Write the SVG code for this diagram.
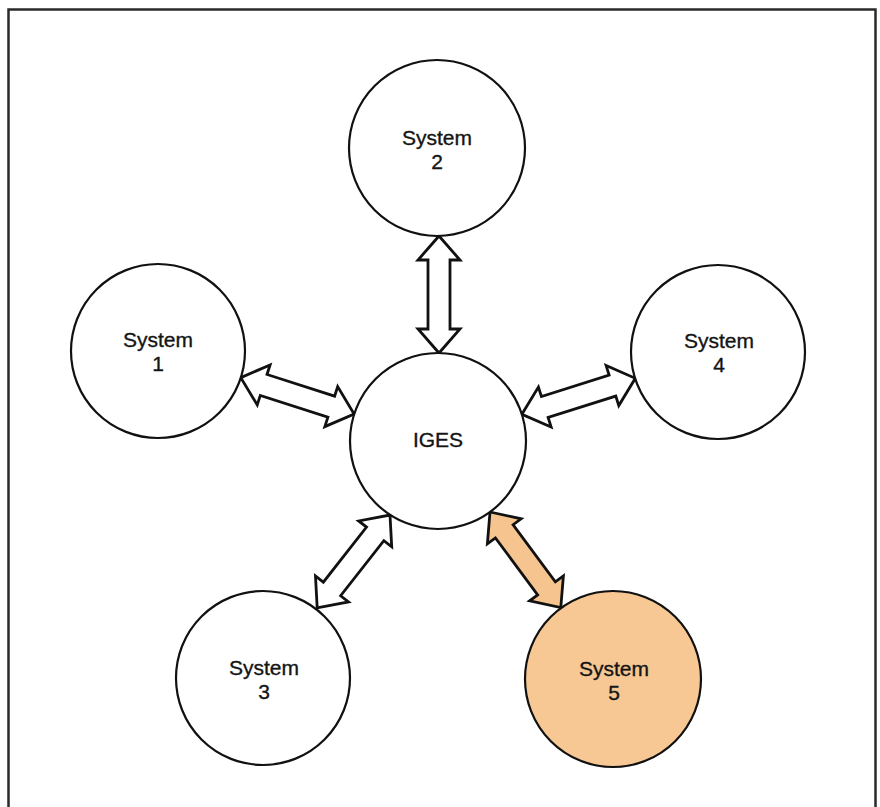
<svg xmlns="http://www.w3.org/2000/svg" width="880" height="807" viewBox="0 0 880 807">
<style>
.frame{fill:none;stroke:#2a2a2a;stroke-width:2.5}
.node{fill:#ffffff;stroke:#111;stroke-width:2.2}
.hl{fill:#f7c894}
.arrow{fill:#ffffff;stroke:#111;stroke-width:2.8;stroke-linejoin:miter}
.arrow.hl{fill:#f6c48e}
.lbl{font-family:"Liberation Sans",Arial,Helvetica,sans-serif;font-size:21px;fill:#141414;stroke:#141414;stroke-width:0.35;text-anchor:middle}
</style>
<rect width="880" height="807" fill="#ffffff"/>
<rect class="frame" x="8.5" y="9.5" width="867" height="810"/>
<g id="connectors">
  <path id="c-s2" class="arrow" transform="translate(439,236) rotate(90)" d="M0,0 L24,-21 L24,-11 L93,-11 L93,-21 L117,0 L93,21 L93,11 L24,11 L24,21 Z"/>
  <path id="c-s1" class="arrow" transform="translate(240.8,377.6) rotate(17.8)" d="M0,0 L24,-21 L24,-11 L95,-11 L95,-21 L119,0 L95,21 L95,11 L24,11 L24,21 Z"/>
  <path id="c-s4" class="arrow" transform="translate(521.9,414.3) rotate(-17.6)" d="M0,0 L24,-21 L24,-11 L95,-11 L95,-21 L119,0 L95,21 L95,11 L24,11 L24,21 Z"/>
  <path id="c-s3" class="arrow" transform="translate(390,515) rotate(128.1)" d="M0,0 L24,-21 L24,-11 L94,-11 L94,-21 L118,0 L94,21 L94,11 L24,11 L24,21 Z"/>
  <path id="c-s5" class="arrow hl" transform="translate(490,512) rotate(53.5)" d="M0,0 L24,-21 L24,-11 L95,-11 L95,-21 L119,0 L95,21 L95,11 L24,11 L24,21 Z"/>
</g>
<g id="system2">
  <circle class="node" cx="437" cy="148" r="88"/>
  <text class="lbl" x="437" y="145">System</text>
  <text class="lbl" x="437" y="169">2</text>
</g>
<g id="system1">
  <circle class="node" cx="158" cy="351" r="87"/>
  <text class="lbl" x="158" y="347">System</text>
  <text class="lbl" x="158" y="371">1</text>
</g>
<g id="iges">
  <circle class="node" cx="438" cy="441" r="88"/>
  <text class="lbl" x="438" y="447">IGES</text>
</g>
<g id="system4">
  <circle class="node" cx="718" cy="352" r="87"/>
  <text class="lbl" x="719" y="348">System</text>
  <text class="lbl" x="719" y="372">4</text>
</g>
<g id="system3">
  <circle class="node" cx="263" cy="678" r="87"/>
  <text class="lbl" x="264" y="675">System</text>
  <text class="lbl" x="264" y="699">3</text>
</g>
<g id="system5">
  <circle class="node hl" cx="613" cy="679" r="88"/>
  <text class="lbl" x="614" y="676">System</text>
  <text class="lbl" x="614" y="700">5</text>
</g>
</svg>
